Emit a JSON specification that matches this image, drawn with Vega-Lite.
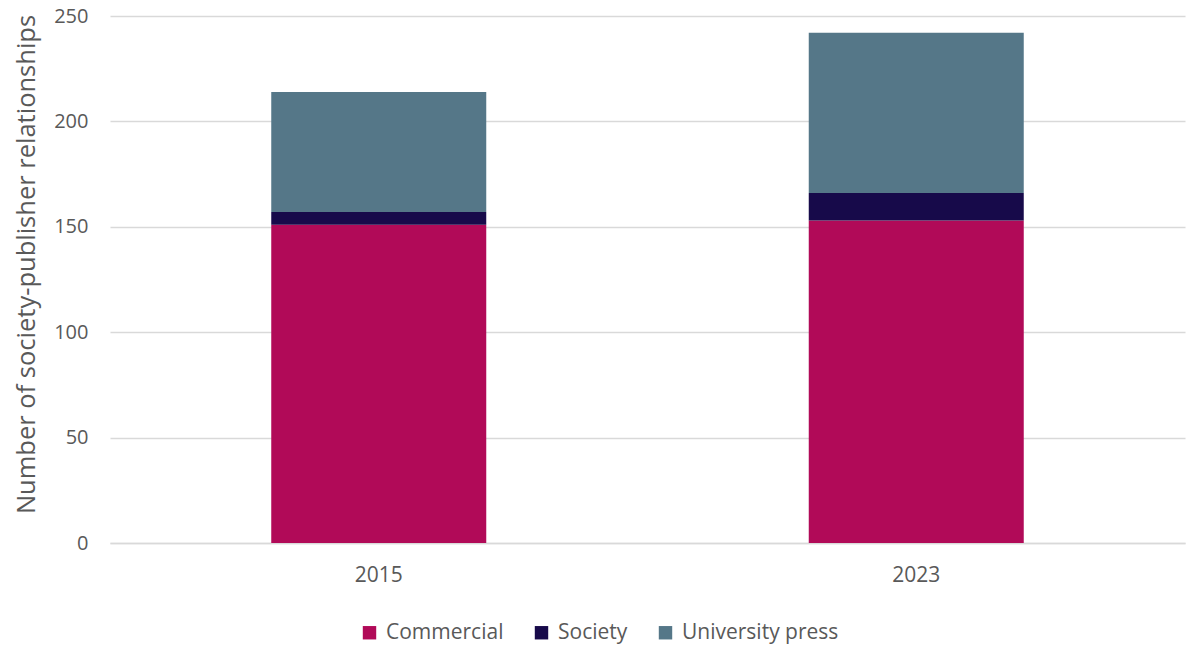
{
  "$schema": "https://vega.github.io/schema/vega-lite/v6.json",
  "autosize": "none",
  "width": 1075,
  "height": 527,
  "padding": {"left": 110, "top": 16, "right": 15, "bottom": 108},
  "background": "white",
  "config": {
    "font": "Open Sans",
    "view": {"stroke": null},
    "axis": {"labelFont": "Open Sans", "titleFont": "Open Sans", "labelColor": "#595959", "titleColor": "#595959"},
    "legend": {"labelFont": "Open Sans"}
  },
  "data": {
    "values": [
      {"year": "2015", "type": "Commercial", "count": 151},
      {"year": "2015", "type": "Society", "count": 6},
      {"year": "2015", "type": "University press", "count": 57},
      {"year": "2023", "type": "Commercial", "count": 153},
      {"year": "2023", "type": "Society", "count": 13},
      {"year": "2023", "type": "University press", "count": 76}
    ]
  },
  "mark": {"type": "bar"},
  "encoding": {
    "x": {
      "field": "year",
      "type": "nominal",
      "scale": {"paddingInner": 0.6, "paddingOuter": 0.3},
      "axis": {
        "title": null,
        "labelAngle": 0,
        "labelFontSize": 21,
        "labelPadding": 21,
        "ticks": false,
        "domain": true,
        "domainColor": "#d9d9d9",
        "domainWidth": 1.5
      }
    },
    "y": {
      "field": "count",
      "type": "quantitative",
      "stack": "zero",
      "scale": {"domain": [0, 250], "nice": false},
      "axis": {
        "title": "Number of society-publisher relationships",
        "titleFontSize": 25.5,
        "titleFontWeight": "normal",
        "titlePadding": 14,
        "titleY": 248,
        "values": [0, 50, 100, 150, 200, 250],
        "labelFontSize": 20,
        "labelPadding": 22,
        "ticks": false,
        "domain": false,
        "gridColor": "#d9d9d9",
        "gridWidth": 1.5
      }
    },
    "order": {"field": "type", "sort": "ascending"},
    "color": {
      "field": "type",
      "type": "nominal",
      "scale": {
        "domain": ["Commercial", "Society", "University press"],
        "range": ["#B10A58", "#170A4A", "#557788"]
      },
      "legend": {
        "title": null,
        "orient": "none",
        "direction": "horizontal",
        "legendX": 249,
        "legendY": 606,
        "symbolType": "square",
        "symbolSize": 180,
        "symbolStrokeWidth": 0,
        "labelFontSize": 21,
        "labelColor": "#595959",
        "columnPadding": 27,
        "labelOffset": 6
      }
    }
  }
}
